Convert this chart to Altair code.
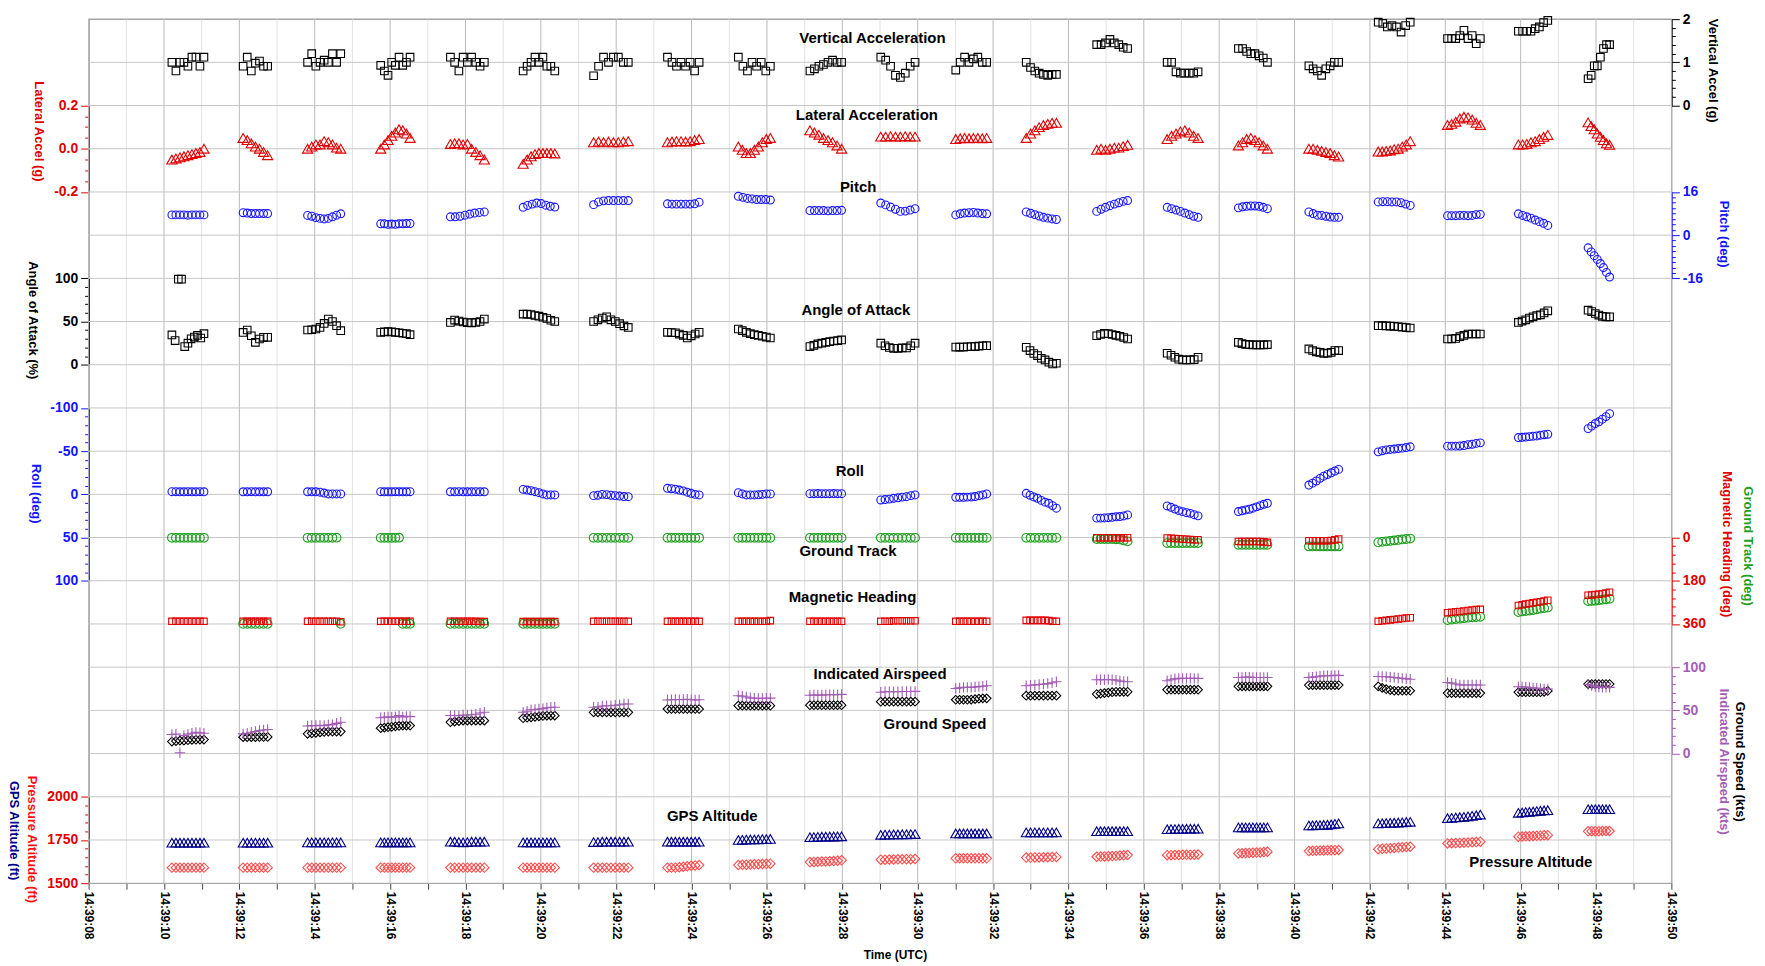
import altair as alt
import pandas as pd

# ---------------- data ----------------
# sample-cluster first / last sample times, seconds after 14:39:00
T_START = [10.21, 12.10, 13.81, 15.75, 17.60, 19.53, 21.40, 23.36, 25.24, 27.14, 29.02,
           31.01, 32.88, 34.75, 36.62, 38.51, 40.38, 42.22, 44.06, 45.94, 47.79]
T_END = [11.06, 12.75, 14.69, 16.53, 18.50, 20.37, 22.32, 24.20, 26.09, 27.98, 29.93,
         31.83, 33.68, 35.57, 37.44, 39.28, 41.17, 43.07, 44.93, 46.72, 48.36]

VERT_ACCEL = [
    [1.0, 0.80, 1.0, 1.0, 0.91, 1.12, 1.12, 0.91, 1.12],
    [0.91, 1.12, 0.80, 0.98, 1.03, 0.91, 0.91],
    [1.0, 1.2, 0.91, 1.0, 1.05, 1.0, 1.2, 1.0, 1.2],
    [0.93, 0.80, 0.70, 1.0, 0.93, 1.12, 0.93, 1.0, 1.12],
    [1.12, 1.0, 0.80, 1.12, 1.0, 1.12, 1.0, 0.91, 1.0],
    [0.80, 0.91, 1.0, 1.12, 1.0, 1.12, 0.91, 0.91, 0.80],
    [0.69, 0.91, 1.12, 1.0, 1.12, 1.12, 1.0, 1.0],
    [1.12, 1.0, 0.91, 1.0, 0.91, 1.0, 0.80, 1.0],
    [1.12, 0.91, 0.80, 1.0, 0.91, 1.0, 0.80, 0.91],
    [0.80, 0.85, 0.91, 0.95, 1.0, 1.05, 1.0, 1.0],
    [1.12, 1.05, 0.91, 0.70, 0.65, 0.75, 0.91, 1.0],
    [0.82, 1.0, 1.12, 1.0, 1.08, 1.12, 1.0, 1.0],
    [1.0, 0.88, 0.80, 0.75, 0.72, 0.70, 0.72, 0.72],
    [1.41, 1.41, 1.45, 1.53, 1.45, 1.41, 1.35, 1.32],
    [1.0, 1.0, 0.78, 0.75, 0.75, 0.75, 0.75, 0.78],
    [1.32, 1.32, 1.25, 1.2, 1.2, 1.15, 1.1, 1.0],
    [0.92, 0.85, 0.80, 0.70, 0.85, 0.92, 1.0, 1.0],
    [1.93, 1.90, 1.82, 1.85, 1.82, 1.70, 1.85, 1.93],
    [1.55, 1.55, 1.55, 1.62, 1.74, 1.55, 1.62, 1.43, 1.55],
    [1.72, 1.72, 1.72, 1.72, 1.78, 1.82, 1.92, 1.97],
    [0.62, 0.70, 0.92, 0.92, 1.12, 1.32, 1.41, 1.41],
]

LAT_ACCEL = [
    [-0.05, -0.045, -0.04, -0.035, -0.03, -0.025, -0.02, -0.015, 0.0],
    [0.05, 0.04, 0.025, 0.01, 0.0, -0.015, -0.03],
    [0.0, 0.01, 0.02, 0.02, 0.035, 0.03, 0.02, 0.005, 0.0],
    [0.0, 0.02, 0.04, 0.06, 0.075, 0.09, 0.085, 0.07, 0.05],
    [0.022, 0.025, 0.025, 0.02, 0.022, 0.0, -0.015, -0.03, -0.05],
    [-0.07, -0.05, -0.035, -0.025, -0.02, -0.02, -0.02, -0.02, -0.022],
    [0.03, 0.033, 0.03, 0.033, 0.03, 0.03, 0.033, 0.035],
    [0.03, 0.033, 0.035, 0.035, 0.033, 0.035, 0.04, 0.045],
    [0.01, -0.005, -0.02, -0.02, -0.005, 0.01, 0.03, 0.045, 0.05],
    [0.085, 0.075, 0.065, 0.05, 0.04, 0.03, 0.015, 0.0],
    [0.056, 0.056, 0.058, 0.056, 0.056, 0.058, 0.056, 0.056],
    [0.045, 0.048, 0.05, 0.048, 0.05, 0.05, 0.048, 0.05],
    [0.05, 0.07, 0.085, 0.1, 0.11, 0.115, 0.12, 0.12],
    [-0.005, 0.0, -0.005, 0.0, 0.005, 0.005, 0.012, 0.018],
    [0.045, 0.06, 0.07, 0.08, 0.085, 0.075, 0.06, 0.05],
    [0.015, 0.03, 0.045, 0.05, 0.04, 0.03, 0.015, 0.0],
    [0.0, 0.0, -0.005, -0.01, -0.015, -0.02, -0.03, -0.036],
    [-0.013, -0.013, -0.01, -0.008, -0.002, 0.0, 0.01, 0.02, 0.035],
    [0.11, 0.115, 0.125, 0.14, 0.148, 0.145, 0.135, 0.12, 0.11],
    [0.02, 0.02, 0.022, 0.03, 0.035, 0.045, 0.055, 0.064],
    [0.122, 0.105, 0.09, 0.07, 0.055, 0.04, 0.025, 0.018],
]

PITCH = [
    [7.5, 7.5, 7.5, 7.5, 7.4, 7.5, 7.5, 7.5, 7.5],
    [8.3, 8.2, 8.0, 8.0, 8.0, 8.0, 8.0],
    [7.3, 7.0, 6.5, 6.2, 6.0, 6.2, 6.8, 7.4, 7.9],
    [4.2, 4.2, 4.0, 4.1, 4.0, 4.2, 4.2, 4.3, 4.3],
    [6.8, 6.8, 7.0, 7.4, 7.8, 8.2, 8.4, 8.6],
    [10.3, 11.0, 11.5, 11.9, 11.7, 11.1, 10.7, 10.4],
    [11.3, 12.3, 12.7, 12.8, 12.8, 12.8, 12.8, 12.8],
    [11.6, 11.5, 11.5, 11.5, 11.5, 11.5, 11.6, 12.2],
    [14.4, 14.0, 13.6, 13.4, 13.2, 13.2, 13.2, 13.0],
    [9.1, 9.1, 9.1, 9.1, 9.0, 9.1, 9.1, 9.2],
    [11.9, 11.2, 10.4, 9.6, 8.8, 8.9, 9.3, 9.8],
    [7.5, 7.9, 8.2, 8.3, 8.4, 8.2, 8.0, 7.9],
    [8.6, 8.1, 7.6, 7.1, 6.6, 6.3, 6.0, 5.8],
    [8.8, 9.6, 10.3, 10.9, 11.5, 12.0, 12.5, 12.8],
    [10.3, 9.8, 9.3, 8.8, 8.2, 7.6, 7.0, 6.6],
    [10.1, 10.5, 10.7, 10.8, 10.8, 10.7, 10.3, 9.8],
    [8.6, 8.0, 7.4, 7.3, 7.0, 6.7, 6.6, 6.6],
    [12.3, 12.4, 12.4, 12.3, 12.3, 12.0, 11.5, 11.0],
    [7.2, 7.2, 7.2, 7.3, 7.3, 7.2, 7.3, 7.6, 7.7],
    [7.9, 7.3, 6.8, 6.3, 5.6, 5.0, 4.4, 3.6],
    [-4.7, -6.2, -7.6, -9.0, -10.5, -12.0, -13.8, -15.5],
]

ANGLE_OF_ATTACK = [
    [34.5, 28, 99, 99, 21, 25, 30, 32, 34, 31, 36],
    [37.4, 40.2, 33.6, 25.9, 29.8, 31.7, 31.7],
    [40.2, 40.5, 41.4, 43.2, 47.8, 52.9, 50.1, 45.2, 39.4],
    [37.5, 38, 38.5, 38, 37.5, 37, 36.5, 36, 34.8],
    [49, 51.7, 50.5, 49.5, 48.8, 48.5, 49, 50.1, 52.9],
    [58.6, 58.6, 58.2, 57, 56.2, 55, 53.5, 51.5, 50.1],
    [50.1, 52, 54, 55.5, 52, 50.1, 47.5, 45, 43.2],
    [37.5, 37.2, 37, 35.5, 34, 31, 33.5, 35.6, 37.5],
    [41.4, 39.5, 37.5, 36, 34.8, 34, 33, 32, 31],
    [21, 22.5, 24.1, 25, 26, 26.7, 27.5, 28, 28.7],
    [25, 22, 20, 19, 19, 19.5, 19.5, 22, 25],
    [20.5, 20.5, 20.5, 20.8, 21, 21, 21.5, 22, 22.1],
    [20.2, 16.4, 13, 10.6, 7.5, 5.6, 3, 1, 1.7],
    [33.6, 35, 36.3, 36, 35, 34, 33, 31.5, 29.8],
    [13.3, 11, 8.7, 6.5, 5.6, 5.6, 5.6, 6, 8.7],
    [26, 24.5, 23.5, 23.3, 23, 23, 23, 23, 23.3],
    [18.3, 16.5, 15, 14.4, 13, 13.5, 14.4, 16.4, 16.4],
    [45.2, 45.2, 45, 44.8, 44.5, 44, 43.5, 43, 42.5],
    [29.8, 30, 30.5, 32.5, 34, 35.6, 35.6, 35.6, 35.6],
    [49, 50.5, 52, 54, 55.5, 57, 57.8, 60, 62.4],
    [63.2, 61.5, 59.3, 57.5, 56, 55.5, 55.5],
]

ROLL = [
    [-3.1, -3.1, -3.0, -3.0, -3.1, -3.0, -3.0, -3.1, -3.0],
    [-3.0, -3.0, -3.1, -3.0, -3.0, -3.0, -3.0],
    [-3.0, -3.0, -3.0, -2.5, -1.5, -0.5, -0.5, -0.5, -0.5],
    [-3.1, -3.0, -3.0, -3.0, -3.1, -3.0, -3.0, -3.0, -3.1],
    [-3.0, -3.0, -3.1, -3.0, -3.0, -3.0, -3.1, -3.0, -3.0],
    [-5.8, -5.0, -4.2, -3.1, -2.0, -0.5, 0.7, 0.7, 0.7],
    [1.5, 1.0, 0.0, 0.3, 1.0, 1.5, 2.0, 2.5, 2.7],
    [-7.0, -6.5, -6.0, -5.0, -4.0, -2.5, -1.2, 0.0, 0.7],
    [-2.0, -0.5, 0.7, 0.7, 0.7, 0.5, 0.0, -0.5, -0.5],
    [-0.8, -0.8, -0.9, -0.8, -0.8, -0.8, -0.9, -0.8, -0.8],
    [6.5, 6.0, 5.5, 4.5, 4.0, 3.2, 2.7, 1.5, 0.7],
    [3.4, 3.4, 3.4, 3.2, 3.0, 2.5, 1.5, 0.7, -0.5],
    [-1.2, 1.0, 3.0, 4.5, 7.0, 9.0, 10.3, 13.0, 16.0],
    [27.5, 27.5, 27.3, 27.0, 26.5, 26.0, 25.7, 25.0, 23.8],
    [13.4, 15.0, 17.0, 18.8, 20.0, 21.2, 22.0, 23.5, 24.9],
    [19.9, 19.0, 18.0, 17.2, 16.0, 14.5, 13.0, 11.5, 10.3],
    [-10.8, -13.0, -15.5, -18.5, -21.0, -23.0, -25.0, -27.0, -28.9],
    [-49.2, -50.5, -51.5, -52.0, -52.5, -53.0, -53.5, -54.2, -55.0],
    [-55.8, -55.8, -55.8, -56.0, -56.5, -57.5, -58.0, -59.0, -59.6],
    [-65.7, -66.0, -66.3, -66.8, -67.3, -67.6, -68.5, -69.0, -69.6],
    [-76.1, -79.0, -82.0, -84.0, -87.0, -90.0, -93.4],
]

GROUND_TRACK = [
    [1, 1, 1, 1, 1, 1, 1, 1, 1],
    [359.5, 359.5, 359.5, 359.5, 359.5, 359.5, 359.5],
    [1, 1, 1, 1, 1, 1, 1, 0.5, 359.5],
    [1, 1, 1, 1, 1, 0.5, 359.5, 359.5, 359.5],
    [359.5, 359.5, 359.5, 359.5, 359.5, 359.5, 359.5, 359.5, 359.5],
    [359.5, 359.5, 359.5, 359.5, 359.5, 359.5, 359.5, 359.5, 359.5],
    [1, 1, 1, 1, 1, 1, 1, 1, 1],
    [1, 1, 1, 1, 1, 1, 1, 1, 1],
    [1, 1, 1, 1, 1, 1, 1, 1, 1],
    [1, 1, 1, 1, 1, 1, 1, 1, 1],
    [1, 1, 1, 1, 1, 1, 1, 1, 1],
    [1, 1, 1, 1, 1, 1, 1, 1, 1],
    [1, 1, 1, 1, 1, 1, 1, 1],
    [6, 6, 6, 6, 6, 7, 8, 12, 16],
    [23, 23, 23, 23, 23, 23, 23, 23, 23],
    [30, 30, 30, 30, 30, 30, 30, 30, 30],
    [37, 37, 37, 37, 37, 37, 37, 37, 37],
    [20, 18, 16, 14, 12, 10, 8, 6, 4],
    [344, 342, 340, 338, 336, 334, 332, 331, 330],
    [310.6, 308, 306, 304, 302, 299, 296, 294, 292],
    [265, 264, 263, 261, 259, 257, 255],
]

MAG_HEADING = [
    [349, 349, 349, 349, 349, 349, 349, 349, 349],
    [349, 349, 349, 349, 349, 349, 349],
    [349, 349, 349, 349, 349, 349, 349, 349, 351],
    [349, 349, 349, 349, 349, 349, 349, 349, 349],
    [349, 349, 349, 349, 349, 349, 349, 350, 350],
    [350, 350, 350, 350, 350, 350, 350, 350, 350],
    [349, 349, 349, 349, 349, 349, 349, 349, 349],
    [349, 349, 349, 349, 349, 349, 349, 349, 349],
    [349, 349, 349, 349, 349, 349, 349, 349, 346],
    [349, 349, 349, 349, 349, 349, 349, 349, 349],
    [349, 349, 349, 347, 347, 347, 347, 347, 347],
    [349, 349, 349, 349, 349, 349, 349, 349, 349],
    [345, 345, 345, 345, 345, 345, 346, 349, 349],
    [1, 1, 1, 1, 1, 1, 1, 1, 1],
    [2, 3, 4, 5, 6, 7, 8, 9, 9],
    [16, 16, 16, 16, 16, 16, 16, 18, 20],
    [13, 13, 13, 13, 13, 13, 12, 9, 6],
    [349, 347, 345, 343, 341, 339, 337, 335, 334],
    [313, 311, 309, 308, 306, 304, 302, 300, 299],
    [283, 280, 277, 274.5, 272, 269.5, 267.5, 264, 261],
    [240, 239, 237, 236, 234, 231, 227.6],
]

INDICATED_AIRSPEED = [
    [22, 22.5, 1, 21, 22.5, 23.5, 24.5, 24, 23.5],
    [22.8, 23.5, 24.7, 25.5, 26.6, 27.2, 27.8],
    [32, 32.4, 32.4, 32.6, 32.4, 33.2, 33.5, 35, 36.3],
    [41.5, 42, 42.5, 42, 42.5, 43.9, 42.5, 43, 42.8],
    [44, 44, 43.9, 44.7, 44.7, 45, 45.5, 47, 47.8],
    [47.8, 49, 50.8, 51, 51.5, 52, 53, 53.6, 53.6],
    [53.6, 54, 55, 55.4, 55.4, 56, 56.5, 57.4, 57.4],
    [62, 62.3, 62.5, 62.3, 62.5, 62.8, 62.3, 62, 62.3],
    [67, 66.5, 65.5, 64.5, 64, 63.9, 63.9, 64, 64.2],
    [67.5, 67.7, 67.7, 67.7, 68, 68, 68, 68.2, 68.5],
    [71, 71.5, 71.5, 71.5, 71.5, 71.8, 71.8, 71.8, 72],
    [75.4, 76, 76.6, 76.6, 76.6, 77, 77.5, 78, 78.5],
    [78.5, 79, 79.5, 80, 80.4, 81, 82, 83.1],
    [85.4, 85.4, 85.4, 85.8, 85.4, 85, 84, 83.5, 83.1],
    [84.2, 85.5, 86.5, 87, 87, 87, 87, 87, 87],
    [88.1, 88.1, 88.5, 88.5, 88.1, 88.1, 88.1, 88.1, 88.1],
    [88.1, 88.5, 89, 89.5, 90, 90, 90, 90.5, 90.5],
    [89.2, 89.2, 89, 88.5, 88, 87.5, 87, 86.5, 86.1],
    [82.3, 81.5, 80.5, 79.5, 79.3, 79.3, 79.3, 79.3, 79.3],
    [77.3, 77.3, 77, 76.5, 76, 75.5, 75, 74.7, 74.7],
    [80.0, 78.5, 77.5, 77, 76.6, 76.6, 76.6],
]

GROUND_SPEED = [
    [13.9, 14.5, 15, 15.1, 15.5, 15.8, 16, 16.2, 16.2],
    [19, 19, 19, 19, 19.2, 19.2, 19.2],
    [22.8, 23.5, 24, 24.5, 25, 25.5, 25.5, 25.5, 25.5],
    [29.4, 30, 30.5, 31, 31.5, 32, 32.4, 32.4, 32.4],
    [36.3, 37, 37.5, 38.1, 38.1, 38.1, 38.1, 38.1, 38.1],
    [40.9, 41.5, 42, 42.5, 43, 43.5, 43.9, 43.9, 43.9],
    [47.8, 47.8, 47.8, 47.8, 47.8, 47.8, 47.8, 47.8, 47.8],
    [51.6, 51.6, 51.6, 51.6, 51.6, 51.6, 51.6, 51.6, 51.6],
    [55.4, 55.4, 55.4, 55.4, 55.4, 55.4, 55.4, 55.4, 55.4],
    [56, 56, 56, 56, 56, 56, 56, 56, 56],
    [60, 60, 60, 60, 60, 60, 60, 60, 60],
    [62.3, 62.3, 62.3, 62.3, 62.5, 63, 63.5, 63.9, 63.9],
    [67, 67, 67, 67, 67, 67, 67, 67],
    [68.9, 69.5, 70, 70.5, 71, 71.5, 71.5, 71.5, 71.5],
    [73.9, 73.9, 73.9, 73.9, 73.9, 73.9, 73.9, 73.9, 73.9],
    [77.8, 77.8, 77.8, 77.8, 77.8, 77.8, 77.8, 77.8, 77.8],
    [79.3, 79.3, 79.3, 79.3, 79.3, 79.3, 79.3, 79.3, 79.3],
    [77.8, 76, 74.5, 73.5, 72.7, 72.7, 72.7, 72.7, 72.7],
    [70, 70, 70, 70, 70, 70, 70, 70, 70],
    [71, 71, 71, 71, 71, 71, 71, 71.5, 72.5],
    [80.5, 80.5, 80.5, 80.5, 80.5, 80.5, 80.5],
]

GPS_ALTITUDE = [
    [1734, 1734, 1734, 1734, 1734, 1734, 1734, 1734, 1734],
    [1734, 1734, 1734, 1734, 1734, 1734, 1734],
    [1736, 1736, 1736, 1736, 1736, 1736, 1736, 1736, 1736],
    [1736, 1736, 1736, 1736, 1736, 1736, 1736, 1736, 1736],
    [1740, 1740, 1738, 1736, 1738, 1740, 1740, 1740, 1740],
    [1736, 1736, 1736, 1736, 1736, 1736, 1736, 1736, 1736],
    [1738, 1738, 1740, 1740, 1740, 1740, 1740, 1740, 1740],
    [1740, 1740, 1740, 1740, 1740, 1740, 1740, 1740, 1740],
    [1750, 1751, 1752, 1753, 1753, 1754, 1755, 1755, 1756],
    [1766, 1767, 1768, 1769, 1769, 1770, 1770, 1771, 1771],
    [1780, 1781, 1781, 1782, 1782, 1783, 1783, 1784, 1784],
    [1788, 1788, 1788, 1788, 1788, 1788, 1788, 1788, 1788],
    [1794, 1794, 1794, 1794, 1794, 1794, 1794, 1794],
    [1801, 1801, 1801, 1801, 1801, 1801, 1801, 1801, 1801],
    [1812, 1813, 1813, 1814, 1814, 1815, 1815, 1815, 1815],
    [1823, 1823, 1823, 1823, 1823, 1823, 1823, 1823, 1823],
    [1834, 1835, 1836, 1836, 1837, 1838, 1840, 1843, 1846],
    [1846, 1847, 1848, 1849, 1850, 1851, 1852, 1854, 1855],
    [1876, 1878, 1880, 1882, 1884, 1887, 1890, 1893, 1897],
    [1907, 1909, 1911, 1913, 1915, 1917, 1919, 1921, 1922],
    [1928, 1928, 1928, 1928, 1928, 1928, 1928],
]

PRESSURE_ALTITUDE = [
    [1590, 1590, 1590, 1590, 1590, 1590, 1590, 1590, 1590],
    [1590, 1590, 1590, 1590, 1590, 1590, 1590],
    [1590, 1590, 1590, 1590, 1590, 1590, 1590, 1590, 1590],
    [1590, 1590, 1590, 1590, 1590, 1590, 1590, 1590, 1590],
    [1590, 1590, 1590, 1590, 1590, 1590, 1590, 1590, 1590],
    [1590, 1590, 1590, 1590, 1590, 1590, 1590, 1590, 1590],
    [1590, 1590, 1590, 1590, 1590, 1590, 1590, 1590, 1590],
    [1590, 1590, 1590, 1592, 1595, 1598, 1601, 1603, 1605],
    [1605, 1606, 1607, 1608, 1609, 1610, 1611, 1612, 1613],
    [1622, 1623, 1624, 1625, 1626, 1627, 1628, 1630, 1632],
    [1636, 1636, 1637, 1637, 1638, 1638, 1639, 1639, 1640],
    [1644, 1644, 1644, 1644, 1644, 1644, 1644, 1644, 1644],
    [1648, 1648, 1649, 1649, 1650, 1650, 1651, 1652],
    [1653, 1654, 1655, 1656, 1657, 1658, 1660, 1661, 1663],
    [1662, 1662, 1663, 1663, 1664, 1664, 1665, 1665, 1666],
    [1672, 1673, 1674, 1675, 1676, 1677, 1678, 1680, 1682],
    [1686, 1687, 1688, 1689, 1689, 1690, 1690, 1691, 1692],
    [1697, 1699, 1701, 1702, 1704, 1706, 1708, 1710, 1711],
    [1730, 1731, 1732, 1733, 1734, 1735, 1737, 1738, 1740],
    [1769, 1770, 1771, 1772, 1773, 1774, 1775, 1777, 1778],
    [1800, 1801, 1801, 1801, 1802, 1802, 1802],
]

# in-plot series labels: text, time (s), value in the series' own units
LABEL_TEXT = ["Vertical Acceleration", "Lateral Acceleration", "Pitch", "Angle of Attack",
              "Roll", "Ground Track", "Magnetic Heading", "Indicated Airspeed",
              "Ground Speed", "GPS Altitude", "Pressure Altitude"]
LABEL_T = [28.8, 28.65, 28.42, 28.36, 28.2, 28.15, 28.27, 29.0, 30.46, 24.55, 46.27]
LABEL_V = [1.56, 0.156, 17.8, 63.6, -27.3, 54.7, 246.8, 91.9, 34.3, 1887.6, 1621]

SECONDS = list(range(8, 51))
ROWS = list(range(21))

# ---------------- layout / style ----------------
W, H = 1590, 868
ROW = H / 20
FONT = "Liberation Sans, Arial, sans-serif"
NARROW = "Liberation Sans Narrow, Arial Narrow, Liberation Sans, sans-serif"

BLACK = "#000000"
RED = "#e00000"
BLUE = "#1414ff"
GREEN = "#1f9f1f"
PURPLE = "#a25db4"
NAVY = "#00008c"
SALMON = "#ff4a4a"


def expand(series):
    rows = []
    for i, vals in enumerate(series):
        n = len(vals)
        for j, v in enumerate(vals):
            frac = j / (n - 1) if n > 1 else 0.0
            rows.append({"t": T_START[i] + (T_END[i] - T_START[i]) * frac, "v": v})
    return pd.DataFrame(rows)


XSCALE = alt.Scale(domain=[8, 50], nice=False, zero=False)
XAXIS = alt.Axis(
    values=SECONDS,
    labelExpr="datum.value % 2 == 0 ? '14:39:' + (datum.value < 10 ? '0' : '') + datum.value : ''",
    labelAngle=90, labelFont=FONT, labelFontSize=12, labelFontWeight="bold",
    labelColor=BLACK, labelPadding=2, labelFlush=False, labelOverlap=False,
    tickSize=6, tickColor="#444444", domain=False, grid=False,
    title="Time (UTC)", titleFont=FONT, titleFontSize=12, titleFontWeight="bold",
    titleColor=BLACK, titleX=810, titleY=72, titleBaseline="middle",
)
X = alt.X("t:Q", scale=XSCALE, axis=XAXIS)


def band_scale(lo, hi, row_lo, row_hi):
    return alt.Scale(domain=[lo, hi], range=[ROW * row_lo, ROW * row_hi], nice=False, zero=False)


def band_axis(orient, color, values, major, label, title, title_color, title_x, title_y):
    return alt.Axis(
        orient=orient, values=values,
        labelExpr=f"({major}) ? {label} : ''",
        labelColor=color, labelFont=FONT, labelFontSize=14, labelFontWeight="bold",
        labelPadding=3, labelOverlap=False, labelFlush=False,
        tickColor=color, tickWidth=1,
        tickSize={"condition": {"test": major, "value": 8}, "value": 4},
        domainColor=color, domainWidth=1.5, grid=False,
        title=title, titleColor=title_color, titleFont=FONT, titleFontSize=13,
        titleFontWeight="bold", titleAngle=90, titleAlign="center",
        titleBaseline="top" if orient == "left" else "bottom",
        titleX=title_x, titleY=title_y,
    )


def title_axis(orient, title, color, title_x, title_y):
    return alt.Axis(
        orient=orient, labels=False, ticks=False, domain=False, grid=False,
        title=title, titleColor=color, titleFont=FONT, titleFontSize=13,
        titleFontWeight="bold", titleAngle=90, titleAlign="center",
        titleBaseline="top" if orient == "left" else "bottom",
        titleX=title_x, titleY=title_y,
    )


def series_layer(data, scale, axis, shape, size, color):
    return alt.Chart(expand(data)).mark_point(
        shape=shape, size=size, filled=False, stroke=color, strokeWidth=1.1, opacity=1
    ).encode(x=X, y=alt.Y("v:Q", scale=scale, axis=axis))


def label_layer(i, scale):
    df = pd.DataFrame({"t": [LABEL_T[i]], "v": [LABEL_V[i]], "txt": [LABEL_TEXT[i]]})
    return alt.Chart(df).mark_text(
        font=NARROW, fontSize=15, fontWeight="bold", color=BLACK, align="center", baseline="middle"
    ).encode(x=X, y=alt.Y("v:Q", scale=scale, axis=None), text="txt:N")


sign = "(datum.value < -1e-9 ? '-' : '')"

S_VA = band_scale(0, 2, 2, 0)
S_LA = band_scale(-0.2, 0.2, 4, 2)
S_P = band_scale(-16, 16, 6, 4)
S_AOA = band_scale(0, 100, 8, 6)
S_R = band_scale(-100, 100, 9, 13)
S_HDG = band_scale(0, 360, 12, 14)
S_SPD = band_scale(0, 100, 17, 15)
S_ALT = band_scale(1500, 2000, 20, 18)

AX_VA = band_axis("right", BLACK, [round(0.2 * i, 1) for i in range(11)],
                  "abs(datum.value - round(datum.value)) < 1e-6", "format(datum.value, 'd')",
                  "Vertical Accel (g)", BLACK, 34, 51.3)
AX_LA = band_axis("left", RED, [round(-0.2 + 0.05 * i, 2) for i in range(9)],
                  "abs(datum.value * 5 - round(datum.value * 5)) < 1e-6",
                  sign + " + format(abs(datum.value), '.1f')",
                  "Lateral Accel (g)", RED, -44, 112.3)
AX_P = band_axis("right", BLUE, list(range(-16, 17, 2)), "datum.value % 16 == 0",
                 sign + " + abs(datum.value)", "Pitch (deg)", BLUE, 45, 215.5)
AX_AOA = band_axis("left", BLACK, list(range(0, 101, 10)), "datum.value % 50 == 0",
                   "'' + datum.value", "Angle of Attack (%)", BLACK, -50, 302)
AX_R = band_axis("left", BLUE, list(range(-100, 101, 10)), "datum.value % 50 == 0",
                 sign + " + abs(datum.value)", "Roll (deg)", BLUE, -47, 476.3)
AX_HDG = band_axis("right", RED, list(range(0, 361, 36)), "datum.value % 180 == 0",
                   "'' + datum.value", "Magnetic Heading (deg)", RED, 48, 527)
AX_GT = title_axis("right", "Ground Track (deg)", GREEN, 69, 528.8)
AX_SPD = band_axis("right", PURPLE, list(range(0, 101, 10)), "datum.value % 50 == 0",
                   "'' + datum.value", "Indicated Airspeed (kts)", PURPLE, 45, 745.5)
AX_GS = title_axis("right", "Ground Speed (kts)", BLACK, 61, 745.5)
AX_PA = band_axis("left", RED, list(range(1500, 2001, 50)), "datum.value % 250 == 0",
                  "'' + datum.value", "Pressure Altitude (ft)", "#ff1010", -51, 823.5)
AX_GPS = title_axis("left", "GPS Altitude (ft)", NAVY, -69, 814.7)

CROSS = "M-1,0L1,0M0,-1L0,1"

# grid
sec_df = pd.DataFrame({"t": SECONDS, "major": [s % 2 == 0 for s in SECONDS]})
minor_grid = alt.Chart(sec_df).transform_filter("!datum.major").mark_rule(
    color="#e2e2e2", strokeWidth=1).encode(x=X)
major_grid = alt.Chart(sec_df).transform_filter("datum.major").mark_rule(
    color="#b9b9b9", strokeWidth=1).encode(x=X)
row_grid = alt.Chart(pd.DataFrame({"r": ROWS})).mark_rule(
    color="#c6c6c6", strokeWidth=1).encode(
    y=alt.Y("r:Q", scale=alt.Scale(domain=[0, 20], range=[0, H], nice=False, zero=False), axis=None))

layers = [
    minor_grid, major_grid, row_grid,
    series_layer(VERT_ACCEL, S_VA, AX_VA, "square", 58, BLACK),
    series_layer(LAT_ACCEL, S_LA, AX_LA, "triangle-up", 105, RED),
    series_layer(PITCH, S_P, AX_P, "circle", 62, BLUE),
    series_layer(ANGLE_OF_ATTACK, S_AOA, AX_AOA, "square", 58, BLACK),
    series_layer(ROLL, S_R, AX_R, "circle", 62, BLUE),
    series_layer(GROUND_TRACK, S_HDG, AX_GT, "circle", 76, GREEN),
    series_layer(MAG_HEADING, S_HDG, AX_HDG, "square", 42, RED),
    series_layer(GROUND_SPEED, S_SPD, AX_GS, "diamond", 76, BLACK),
    series_layer(INDICATED_AIRSPEED, S_SPD, AX_SPD, CROSS, 110, PURPLE),
    series_layer(GPS_ALTITUDE, S_ALT, AX_GPS, "triangle-up", 100, NAVY),
    series_layer(PRESSURE_ALTITUDE, S_ALT, AX_PA, "diamond", 90, SALMON),
]
label_scales = [S_VA, S_LA, S_P, S_AOA, S_R, S_HDG, S_HDG, S_SPD, S_SPD, S_ALT, S_ALT]
for i, sc in enumerate(label_scales):
    layers.append(label_layer(i, sc))

chart = alt.layer(*layers).resolve_scale(y="independent").properties(
    width=W, height=H,
    padding={"left": 81, "top": 9, "right": 86, "bottom": 78},
    autosize=alt.AutoSizeParams(type="none"),
).configure_view(stroke="#6a6a6a", strokeWidth=1.2)

chart.save("out.html", embed_options={"renderer": "svg", "actions": False})
